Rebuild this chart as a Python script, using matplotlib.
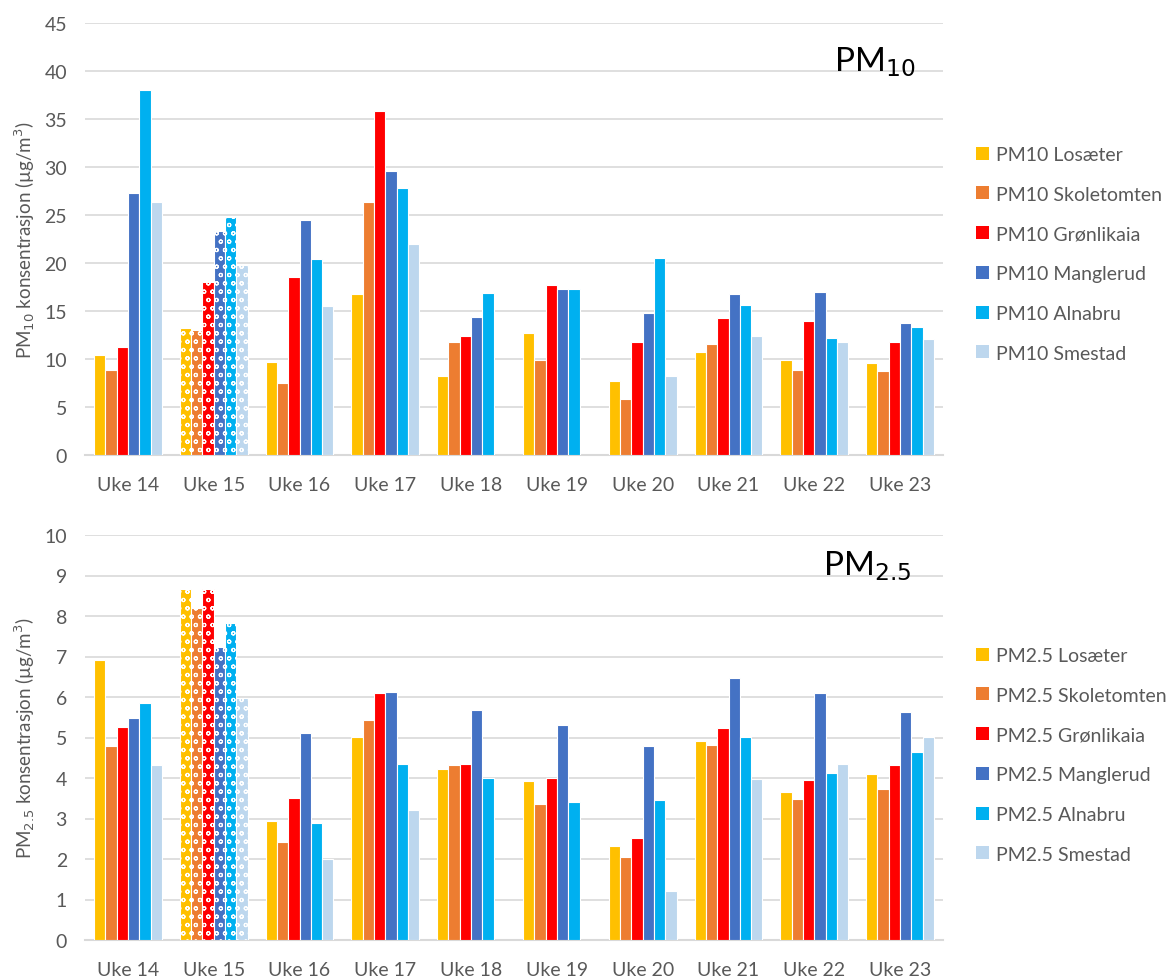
import numpy as np
import matplotlib
matplotlib.use("Agg")
import matplotlib.pyplot as plt
import matplotlib.patches as mpatches

# ---------------------------------------- data ----------------------------------------
weeks = ['Uke 14', 'Uke 15', 'Uke 16', 'Uke 17', 'Uke 18',
         'Uke 19', 'Uke 20', 'Uke 21', 'Uke 22', 'Uke 23']
stations = ['Losæter', 'Skoletomten', 'Grønlikaia', 'Manglerud', 'Alnabru', 'Smestad']
colors = ['#FFC000', '#ED7D31', '#FF0000', '#4472C4', '#00B0F0', '#BDD7EE']

# PM10 per station (one value per week), nan = no data
pm10_losaeter = [10.4, 13.2, 9.7, 16.8, 8.2, 12.7, 7.7, 10.7, 9.9, 9.6]
pm10_skoletomten = [8.9, 13.0, 7.5, 26.4, 11.8, 9.9, 5.8, 11.6, 8.9, 8.7]
pm10_gronlikaia = [11.3, 18.0, 18.5, 35.8, 12.4, 17.7, 11.8, 14.3, 14.0, 11.8]
pm10_manglerud = [27.3, 23.3, 24.5, 29.6, 14.4, 17.3, 14.8, 16.8, 17.0, 13.7]
pm10_alnabru = [38.0, 24.8, 20.4, 27.8, 16.9, 17.3, 20.5, 15.6, 12.2, 13.3]
pm10_smestad = [26.4, 19.8, 15.5, 22.0, np.nan, np.nan, 8.2, 12.4, 11.8, 12.1]

# PM2.5 per station
pm25_losaeter = [6.91, 8.67, 2.94, 5.02, 4.23, 3.93, 2.32, 4.92, 3.66, 4.10]
pm25_skoletomten = [4.79, 8.20, 2.43, 5.44, 4.31, 3.35, 2.05, 4.82, 3.48, 3.72]
pm25_gronlikaia = [5.26, 8.67, 3.51, 6.09, 4.34, 4.00, 2.52, 5.23, 3.96, 4.31]
pm25_manglerud = [5.47, 7.24, 5.12, 6.13, 5.68, 5.30, 4.79, 6.46, 6.09, 5.64]
pm25_alnabru = [5.85, 7.83, 2.90, 4.34, 4.00, 3.41, 3.45, 5.02, 4.13, 4.65]
pm25_smestad = [4.31, 5.97, 1.99, 3.21, np.nan, np.nan, 1.22, 3.97, 4.34, 5.02]

pm10 = [pm10_losaeter, pm10_skoletomten, pm10_gronlikaia, pm10_manglerud, pm10_alnabru, pm10_smestad]
pm25 = [pm25_losaeter, pm25_skoletomten, pm25_gronlikaia, pm25_manglerud, pm25_alnabru, pm25_smestad]

hatched_week = 1  # Uke 15 is drawn with a pattern

# ---------------------------------------- style ----------------------------------------
plt.rcParams['font.family'] = ['Lato', 'DejaVu Sans']
plt.rcParams['hatch.linewidth'] = 0.8
grey_txt = '#595959'
grid_col = '#D9D9D9'

W, H = 1168, 979
fig = plt.figure(figsize=(W / 100, H / 100), dpi=100)

x = np.arange(len(weeks))
bw = 0.132


def draw_panel(ax, series, prefix, ymax, ystep, ylabel, title, title_pos, leg_top):
    for i, (vals, col, name) in enumerate(zip(series, colors, stations)):
        offs = (i - 2.5) * bw
        bars = ax.bar(x + offs, vals, width=bw, color=col, edgecolor='white',
                      linewidth=0.8, label=prefix + ' ' + name, zorder=3)
        bars[hatched_week].set_hatch('oo')

    ax.set_xlim(-0.5, len(weeks) - 0.5)
    ax.set_ylim(0, ymax)
    ax.set_yticks(np.arange(0, ymax + 0.01, ystep))
    ax.set_xticks(x)
    ax.set_xticklabels(weeks)
    ax.grid(axis='y', color=grid_col, linewidth=1.2, zorder=0)
    ax.set_axisbelow(True)
    for s in ['top', 'right', 'left']:
        ax.spines[s].set_visible(False)
    ax.spines['bottom'].set_color(grid_col)
    ax.spines['bottom'].set_linewidth(1.5)
    ax.tick_params(axis='both', length=0, colors=grey_txt, labelsize=14)
    ax.tick_params(axis='y', pad=13)
    ax.tick_params(axis='x', pad=15)
    ax.set_ylabel(ylabel, color=grey_txt, fontsize=13.5, labelpad=5)

    ax.text(title_pos[0], title_pos[1], title, transform=ax.transAxes,
            fontsize=24, color='black', ha='center', va='baseline')

    # legend on the right side of the figure, squares as markers
    handles = [mpatches.Rectangle((0, 0), 1, 1, facecolor=c, edgecolor='none') for c in colors]
    labels = [prefix + ' ' + s for s in stations]
    fig.legend(handles, labels, loc='upper left', bbox_to_anchor=(976 / W, 1 - leg_top / H),
               frameon=False, fontsize=14, labelcolor=grey_txt, handlelength=0.65,
               handleheight=0.65, handletextpad=0.4, labelspacing=1.17, borderpad=0,
               borderaxespad=0)


ax1 = fig.add_axes([85 / W, 1 - 456 / H, 858 / W, 432 / H])
draw_panel(ax1, pm10, 'PM10', 45, 5, 'PM$_{10}$ konsentrasjon (µg/m$^3$)',
           'PM$_{10}$', (0.92, 0.89), 147)

ax2 = fig.add_axes([85 / W, 1 - 941 / H, 858 / W, 405 / H])
draw_panel(ax2, pm25, 'PM2.5', 10, 1, 'PM$_{2.5}$ konsentrasjon (µg/m$^3$)',
           'PM$_{2.5}$', (0.912, 0.904), 648)

fig.savefig('out.png', dpi=100)
